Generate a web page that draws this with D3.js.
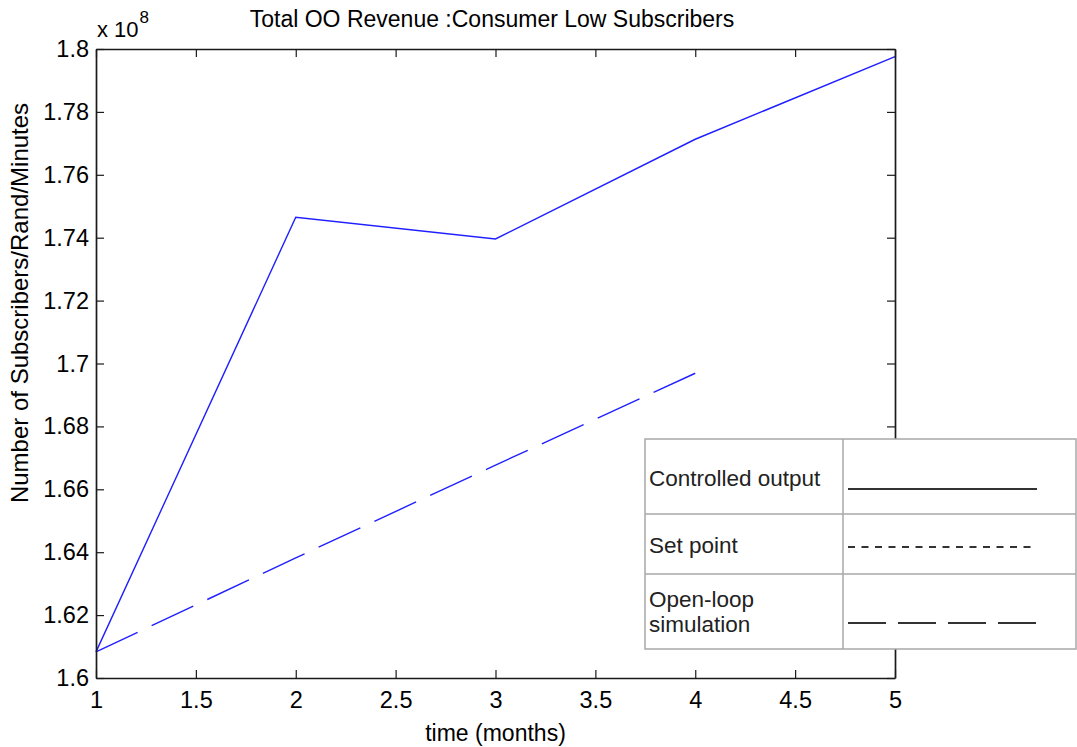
<!DOCTYPE html>
<html>
<head>
<meta charset="utf-8">
<script src="https://d3js.org/d3.v7.min.js"></script>
<style>
  html, body { margin: 0; padding: 0; background: #fff; }
  svg { display: block; font-family: "Liberation Sans", Arial, Helvetica, sans-serif; }
</style>
</head>
<body>
<svg id="chart" width="1077" height="747"></svg>
<script>
// Months on the x axis
const months = [1, 2, 3, 4, 5];
// Controlled output (revenue, rand)
const controlledOutput = [160830000, 174650000, 173960000, 177130000, 179760000];
// Open-loop simulation, available for months 1–4
const openLoopMonths = [1, 2, 3, 4];
const openLoop = [160830000, 163820000, 166770000, 169690000];

const xTicks = [1, 1.5, 2, 2.5, 3, 3.5, 4, 4.5, 5];
const yTicks = [1.6e8, 1.62e8, 1.64e8, 1.66e8, 1.68e8, 1.7e8, 1.72e8, 1.74e8, 1.76e8, 1.78e8, 1.8e8];
const yTickLabels = ["1.6", "1.62", "1.64", "1.66", "1.68", "1.7", "1.72", "1.74", "1.76", "1.78", "1.8"];

const legendLabels = [["Controlled output"], ["Set point"], ["Open-loop", "simulation"]];
const legendDashes = [null, "7,6.5", "38,12"];

const svg = d3.select("#chart");
const plot = { left: 96, right: 895, top: 49, bottom: 678 };

const x = d3.scaleLinear().domain([1, 5]).range([plot.left, plot.right]);
const y = d3.scaleLinear().domain([1.6e8, 1.8e8]).range([plot.bottom, plot.top]);

const axisColor = "#1a1a1a";
const tickFont = 23.5;

// data lines
const line = d3.line().x(d => x(d[0])).y(d => y(d[1]));
svg.append("path")
  .datum(months.map((m, i) => [m, controlledOutput[i]]))
  .attr("d", line)
  .attr("fill", "none")
  .attr("stroke", "#1f1fff")
  .attr("stroke-width", 1.4);

svg.append("path")
  .datum(openLoopMonths.map((m, i) => [m, openLoop[i]]))
  .attr("d", line)
  .attr("fill", "none")
  .attr("stroke", "#1f1fff")
  .attr("stroke-width", 1.4)
  .attr("stroke-dasharray", "46,15.5");

// axes (box with inward ticks on all four sides)
function styleAxis(g) {
  g.select(".domain").attr("stroke", axisColor).attr("stroke-width", 1.7);
  g.selectAll(".tick line").attr("stroke", axisColor).attr("stroke-width", 1.2);
  g.selectAll(".tick text").attr("fill", "#000").attr("font-size", tickFont)
    .attr("font-family", "Liberation Sans, Arial, sans-serif");
}

const tickLen = 8;
svg.append("g")
  .attr("transform", `translate(0,${plot.bottom})`)
  .call(d3.axisBottom(x).tickValues(xTicks).tickFormat(d3.format("~g"))
        .tickSizeInner(-tickLen).tickSizeOuter(0).tickPadding(13))
  .call(styleAxis);

svg.append("g")
  .attr("transform", `translate(0,${plot.top})`)
  .call(d3.axisTop(x).tickValues(xTicks).tickFormat("")
        .tickSizeInner(-tickLen).tickSizeOuter(0))
  .call(styleAxis);

svg.append("g")
  .attr("transform", `translate(${plot.left},0)`)
  .call(d3.axisLeft(y).tickValues(yTicks).tickFormat((d, i) => yTickLabels[i])
        .tickSizeInner(-tickLen).tickSizeOuter(0).tickPadding(7))
  .call(styleAxis);

svg.append("g")
  .attr("transform", `translate(${plot.right},0)`)
  .call(d3.axisRight(y).tickValues(yTicks).tickFormat("")
        .tickSizeInner(-tickLen).tickSizeOuter(0))
  .call(styleAxis);

// exponent label
const expo = svg.append("text")
  .attr("x", plot.left + 1)
  .attr("y", 37)
  .attr("font-size", 22)
  .attr("fill", "#000");
expo.append("tspan").text("x 10");
expo.append("tspan").attr("dx", 1).attr("dy", -14).attr("font-size", 17).text("8");

// title
svg.append("text")
  .attr("x", 492)
  .attr("y", 27)
  .attr("text-anchor", "middle")
  .attr("font-size", 23)
  .attr("fill", "#000")
  .text("Total OO Revenue :Consumer Low Subscribers");

// axis titles
svg.append("text")
  .attr("x", (plot.left + plot.right) / 2)
  .attr("y", 741)
  .attr("text-anchor", "middle")
  .attr("font-size", 23)
  .attr("fill", "#000")
  .text("time (months)");

svg.append("text")
  .attr("transform", "translate(28,303) rotate(-90)")
  .attr("text-anchor", "middle")
  .attr("font-size", 24)
  .attr("fill", "#000")
  .text("Number of Subscribers/Rand/Minutes");

// legend table
const leg = { left: 645, right: 1076, top: 439, bottom: 649, divider: 843 };
const rowEdges = [439, 514, 574, 649];
const lg = svg.append("g");
lg.append("rect")
  .attr("x", leg.left).attr("y", leg.top)
  .attr("width", leg.right - leg.left).attr("height", leg.bottom - leg.top)
  .attr("fill", "#fff").attr("stroke", "#a8a8a8").attr("stroke-width", 1.5);
lg.append("line")
  .attr("x1", leg.divider).attr("x2", leg.divider)
  .attr("y1", leg.top).attr("y2", leg.bottom)
  .attr("stroke", "#a8a8a8").attr("stroke-width", 1.5);
lg.selectAll("line.row")
  .data(rowEdges.slice(1, -1))
  .join("line")
  .attr("class", "row")
  .attr("x1", leg.left).attr("x2", leg.right)
  .attr("y1", d => d).attr("y2", d => d)
  .attr("stroke", "#a8a8a8").attr("stroke-width", 1.5);

const textBaselines = [[486], [553], [607, 632]];
const sampleY = [489, 547, 623];
legendLabels.forEach((lines, i) => {
  lines.forEach((t, j) => {
    lg.append("text")
      .attr("x", 649)
      .attr("y", textBaselines[i][j])
      .attr("font-size", 22.5)
      .attr("fill", "#222")
      .text(t);
  });
  lg.append("line")
    .attr("x1", 848).attr("x2", 1037)
    .attr("y1", sampleY[i]).attr("y2", sampleY[i])
    .attr("stroke", "#333")
    .attr("stroke-width", 2)
    .attr("stroke-dasharray", legendDashes[i]);
});
</script>
</body>
</html>
